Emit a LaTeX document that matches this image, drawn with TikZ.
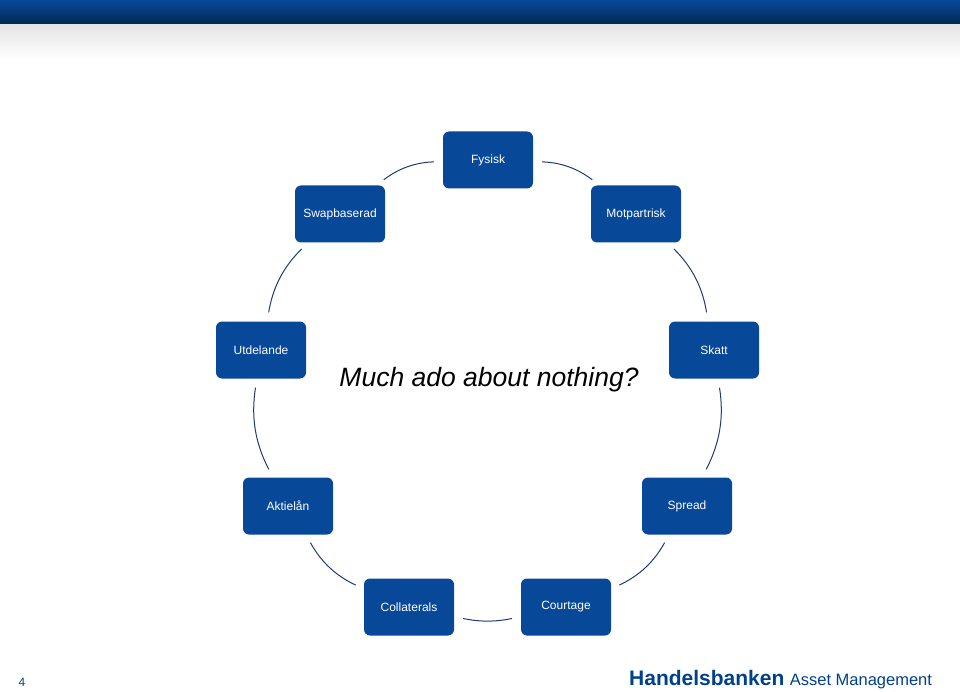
\documentclass[tikz,border=0pt]{standalone}
\usepackage{fontspec}
\setmainfont{Liberation Sans}
\usetikzlibrary{positioning}
\definecolor{hbblue}{RGB}{8,72,152}
\definecolor{hbdark}{RGB}{0,42,80}
\definecolor{hbline}{RGB}{30,60,110}
\definecolor{hblogo}{RGB}{0,64,140}
\begin{document}
\begin{tikzpicture}[x=1pt,y=-1pt,
  topic/.style={fill=hbblue,rounded corners=6pt,minimum width=90pt,minimum height=57pt,text=white,font=\fontsize{12}{14}\selectfont},
  link/.style={hbline,line width=1pt,shorten <=9pt,shorten >=9pt}]
  \useasboundingbox (0,0) rectangle (960,692);
  % header
  \shade[top color=hbblue,bottom color=hbdark] (0,0) rectangle (960,24);
  \shade[top color=black!10,bottom color=white] (0,25) rectangle (960,60);
  % topics
  \node[topic] (fys) at (488,160) {Fysisk};
  \node[topic] (mot) at (636,214) {Motpartrisk};
  \node[topic] (ska) at (714,350) {Skatt};
  \node[topic] (spr) at (687,506) {Spread};
  \node[topic] (cou) at (566,607) {Courtage};
  \node[topic] (col) at (409,607) {Collaterals};
  \node[topic] (akt) at (288,506) {Aktielån};
  \node[topic] (utd) at (261,350) {Utdelande};
  \node[topic] (swa) at (340,214) {Swapbaserad};
  % ring
  \draw[link] (fys) to[bend left=18] (mot);
  \draw[link] (mot) to[bend left=18] (ska);
  \draw[link] (ska) to[bend left=18] (spr);
  \draw[link] (spr) to[bend left=18] (cou);
  \draw[link] (cou) to[bend left=12] (col);
  \draw[link] (col) to[bend left=18] (akt);
  \draw[link] (akt) to[bend left=18] (utd);
  \draw[link] (utd) to[bend left=18] (swa);
  \draw[link] (swa) to[bend left=18] (fys);
  \node[font=\itshape\fontsize{26.5}{30}\selectfont] (q) at (489,380) {Much ado about nothing?};
  % footer
  \node[font=\fontsize{12}{14}\selectfont,text=hblogo] (pg) at (22,682) {4};
  \node[anchor=base west,inner sep=0pt,text=hblogo,font=\bfseries\fontsize{21}{23}\selectfont] (hb) at (629,685) {Handelsbanken};
  \node[inner sep=0pt,text=hblogo,font=\fontsize{16.5}{19}\selectfont,right=5pt of hb.base east,anchor=base west] (am) {Asset Management};
\end{tikzpicture}
\end{document}
